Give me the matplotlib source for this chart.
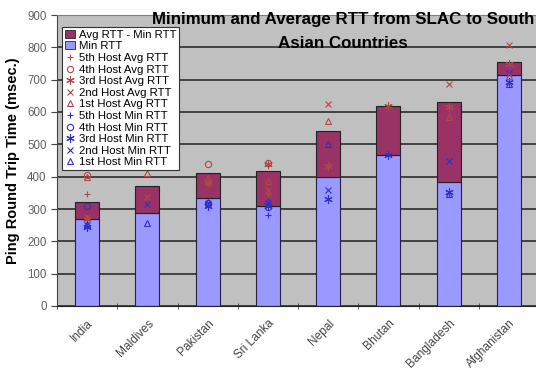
import numpy as np
import matplotlib.pyplot as plt
import matplotlib.transforms as mtransforms
from matplotlib.lines import Line2D
from matplotlib.patches import Patch

nan = np.nan

countries = ["India", "Maldives", "Pakistan", "Sri Lanka", "Nepal",
             "Bhutan", "Bangladesh", "Afghanistan"]
min_rtt = [270, 287, 334, 308, 398, 466, 382, 714]
avg_rtt = [321, 372, 411, 416, 542, 618, 632, 756]

# per-host averages (1st..5th host)
host_avg = {
    "1st": [398, 412, 397, 386, 572, nan, 586, 712],
    "2nd": [275, 338, 380, 360, 624, nan, 688, 808],
    "3rd": [270, nan, 383, 440, 432, 618, 615, 748],
    "4th": [404, nan, 440, 442, nan, nan, nan, nan],
    "5th": [347, nan, 376, 345, nan, nan, nan, nan],
}
# per-host minimums
host_min = {
    "1st": [255, 258, 322, 325, 500, nan, 345, 688],
    "2nd": [250, 315, 315, 318, 360, nan, 448, 720],
    "3rd": [245, nan, 310, 310, 331, 466, 352, 694],
    "4th": [308, nan, 318, 305, nan, nan, nan, nan],
    "5th": [240, nan, 305, 280, nan, nan, nan, nan],
}

plt.rcParams['font.family'] = ['Liberation Sans', 'DejaVu Sans']

red = "#993366"
blue = "#9999ff"
avg_c = "#b04848"
min_c = "#3030c8"
markers = {"5th": ('+', 4, 0.8), "4th": ('o', 4.5, 0.8), "3rd": ((6, 2, 0), 6, 0.8),
           "2nd": ('x', 4.5, 0.8), "1st": ('^', 4, 0.8)}

fig = plt.figure(figsize=(5.36, 3.81), dpi=100)
ax = fig.add_axes([57 / 536, 75 / 381, 482 / 536, 291 / 381])
ax.set_facecolor("#c0c0c0")

x = np.arange(len(countries))
diff = np.array(avg_rtt) - np.array(min_rtt)
ax.bar(x, min_rtt, width=0.4, color=blue, edgecolor="#222244", linewidth=0.8, zorder=2)
ax.bar(x, diff, bottom=min_rtt, width=0.4, color=red, edgecolor="#222222",
       linewidth=0.8, zorder=2)

for h in ["5th", "4th", "3rd", "2nd", "1st"]:
    m, s, lw = markers[h]
    ax.plot(x, host_avg[h], ls='none', marker=m, ms=s, mew=lw, mfc='none',
            mec=avg_c, zorder=3)
    ax.plot(x, host_min[h], ls='none', marker=m, ms=s, mew=lw, mfc='none',
            mec=min_c, zorder=3)

ax.set_xlim(-0.5, 7.5)
ax.set_ylim(0, 900)
ax.set_yticks(range(0, 901, 100))
ax.yaxis.grid(True, color="#202020", lw=1.1, zorder=1)
ax.set_axisbelow(True)

ax.set_xticks(x)
ax.set_xticklabels(countries, rotation=45, ha='right', rotation_mode='anchor',
                   fontsize=8.6, color="#444444")
# rotated labels sit a little left of the category centre
shift = mtransforms.ScaledTranslation(-11 / 100, 0, fig.dpi_scale_trans)
for lab in ax.get_xticklabels():
    lab.set_transform(lab.get_transform() + shift)
ax.set_xticks(np.arange(-0.5, 8, 1), minor=True)
ax.tick_params(axis='x', which='major', length=0, pad=8)
ax.tick_params(axis='x', which='minor', length=4, direction='inout', color="#444444")
ax.tick_params(axis='y', length=4, direction='out', labelsize=8.3, labelcolor="#606060",
               color="#444444")

for side in ["top", "right"]:
    ax.spines[side].set_color("#808080")
ax.spines["left"].set_color("#444444")
ax.spines["bottom"].set_color("#222222")

ax.set_ylabel("Ping Round Trip Time (msec.)", fontsize=10.5, fontweight='bold', labelpad=5)

fig.text(343 / 536, 1 - 12 / 381, "Minimum and Average RTT from SLAC to South\nAsian Countries",
         ha='center', va='top', fontsize=12.2, fontweight='bold', linespacing=1.72)

handles = [Patch(facecolor=red, edgecolor="#222222", lw=0.6),
           Patch(facecolor=blue, edgecolor="#222244", lw=0.6)]
labels = ["Avg RTT - Min RTT", "Min RTT"]
for kind, col in [("Avg", avg_c), ("Min", min_c)]:
    for h in ["5th", "4th", "3rd", "2nd", "1st"]:
        m, s, lw = markers[h]
        handles.append(Line2D([], [], ls='none', marker=m, ms=s, mew=lw, mfc='none', mec=col))
        labels.append(f"{h} Host {kind} RTT")

leg = ax.legend(handles, labels, loc='upper left', bbox_to_anchor=(5 / 482, 1 - 12 / 291),
                fontsize=8.2, labelspacing=0.14, handlelength=0.9, handleheight=0.7,
                handletextpad=0.3, borderpad=0.25, borderaxespad=0, fancybox=False,
                framealpha=1, edgecolor="#333333")
leg.get_frame().set_linewidth(0.8)
leg.set_zorder(5)

fig.savefig("out.png", dpi=100)
